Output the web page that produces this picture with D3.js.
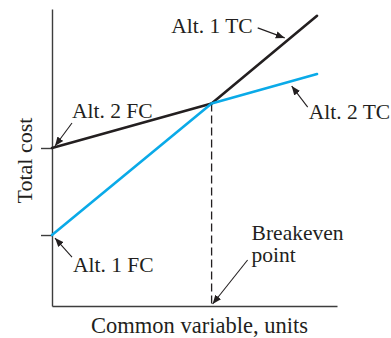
<!DOCTYPE html>
<html>
<head>
<meta charset="utf-8">
<script src="https://cdn.jsdelivr.net/npm/d3@7"></script>
<style>
  body { margin: 0; background: #fff; }
  text { font-family: "Liberation Serif", "Times New Roman", serif; fill: #231f20; }
</style>
</head>
<body>
<div id="wrapper"></div>
<script>
// Common variable values: start, breakeven, end of the plotted range
const xValues = [0, 5.6, 9.3]
// Total cost of each alternative at those values
const alt1Cost = [23.9, 68.2, 97.7]
const alt2Cost = [53.2, 68.2, 78.1]
const fixedCostTicks = [alt2Cost[0], alt1Cost[0]]
const breakevenIndex = 1

const dimensions = {
  width: 391,
  height: 338,
  margin: { top: 9, right: 54, bottom: 32, left: 52 },
}
dimensions.boundedWidth = dimensions.width - dimensions.margin.left - dimensions.margin.right
dimensions.boundedHeight = dimensions.height - dimensions.margin.top - dimensions.margin.bottom

const wrapper = d3.select("#wrapper")
  .append("svg")
    .attr("width", dimensions.width)
    .attr("height", dimensions.height)

const defs = wrapper.append("defs")
defs.append("marker")
    .attr("id", "arrow")
    .attr("viewBox", "0 0 10 10")
    .attr("refX", 10)
    .attr("refY", 5)
    .attr("markerWidth", 9)
    .attr("markerHeight", 9)
    .attr("markerUnits", "userSpaceOnUse")
    .attr("orient", "auto")
  .append("path")
    .attr("d", "M0,1 L10,5 L0,9 Z")
    .attr("fill", "#231f20")

const bounds = wrapper.append("g")
  .attr("transform", `translate(${dimensions.margin.left},${dimensions.margin.top})`)

const xScale = d3.scaleLinear()
  .domain([0, 10])
  .range([0, dimensions.boundedWidth])

const yScale = d3.scaleLinear()
  .domain([0, 100])
  .range([dimensions.boundedHeight, 0])

// axes: no tick labels, only the two fixed-cost marks on y
const yAxisGenerator = d3.axisLeft(yScale)
  .tickValues(fixedCostTicks)
  .tickFormat("")
  .tickSizeInner(11)
  .tickSizeOuter(0)
const yAxis = bounds.append("g").call(yAxisGenerator)

const xAxisGenerator = d3.axisBottom(xScale)
  .tickValues([])
  .tickSizeOuter(0)
const xAxis = bounds.append("g")
  .attr("transform", `translate(0,${dimensions.boundedHeight})`)
  .call(xAxisGenerator)

bounds.selectAll(".domain, .tick line")
  .attr("stroke", "#3d3d3d")
  .attr("stroke-width", 1.4)

// dashed drop line at breakeven
bounds.append("line")
  .attr("x1", xScale(xValues[breakevenIndex]))
  .attr("x2", xScale(xValues[breakevenIndex]))
  .attr("y1", yScale(alt1Cost[breakevenIndex]))
  .attr("y2", yScale(0))
  .attr("stroke", "#231f20")
  .attr("stroke-width", 1.3)
  .attr("stroke-dasharray", "8,4")

// each segment: lower cost in blue, higher in black
const segments = []
for (let i = 0; i < xValues.length - 1; i++) {
  const a1 = alt1Cost[i] + alt1Cost[i + 1]
  const a2 = alt2Cost[i] + alt2Cost[i + 1]
  const low = a1 < a2 ? alt1Cost : alt2Cost
  const high = low === alt1Cost ? alt2Cost : alt1Cost
  segments.push({ vals: high, i, color: "#231f20" })
  segments.push({ vals: low, i, color: "#0aaae8" })
}
const lineGenerator = d3.line()
  .x(d => xScale(d[0]))
  .y(d => yScale(d[1]))

bounds.selectAll(".seg")
  .data(segments)
  .join("path")
    .attr("class", "seg")
    .attr("d", s => lineGenerator([[xValues[s.i], s.vals[s.i]], [xValues[s.i + 1], s.vals[s.i + 1]]]))
    .attr("fill", "none")
    .attr("stroke", s => s.color)
    .attr("stroke-width", 2.6)
    .attr("stroke-linecap", "round")

// helpers to find a point on a line
const valueAt = (vals, x) => {
  const i = x <= xValues[1] ? 0 : 1
  const t = (x - xValues[i]) / (xValues[i + 1] - xValues[i])
  return vals[i] + t * (vals[i + 1] - vals[i])
}

// annotations: anchor in data units, tip/tail/text offsets in px
const annotations = [
  { lines: ["Alt. 1 TC"], x: 8.2, y: valueAt(alt1Cost, 8.2), tip: [-1, -4], tail: [-28, -14], text: [-33, -9], anchor: "end" },
  { lines: ["Alt. 2 TC"], x: 8.41, y: valueAt(alt2Cost, 8.41), tip: [0, 5], tail: [16, 26], text: [17, 38], anchor: "start" },
  { lines: ["Alt. 2 FC"], x: 0, y: alt2Cost[0], tip: [3, -2], tail: [20, -25], text: [20, -30], anchor: "start" },
  { lines: ["Alt. 1 FC"], x: 0, y: alt1Cost[0], tip: [3, 3], tail: [20, 22], text: [21, 37], anchor: "start" },
  { lines: ["Breakeven", "point"], x: xValues[breakevenIndex], y: 0, tip: [1, -2], tail: [36, -46], text: [40, -66], anchor: "start" },
]

annotations.forEach(a => {
  const px = xScale(a.x), py = yScale(a.y)
  bounds.append("line")
    .attr("x1", px + a.tail[0]).attr("y1", py + a.tail[1])
    .attr("x2", px + a.tip[0]).attr("y2", py + a.tip[1])
    .attr("stroke", "#231f20")
    .attr("stroke-width", 1.1)
    .attr("marker-end", "url(#arrow)")
  const t = bounds.append("text")
    .attr("x", px + a.text[0])
    .attr("y", py + a.text[1])
    .attr("text-anchor", a.anchor)
    .style("font-size", "21.5px")
  a.lines.forEach((l, k) => {
    t.append("tspan")
      .attr("x", px + a.text[0])
      .attr("dy", k === 0 ? 0 : 22)
      .text(l)
  })
})

// axis titles
wrapper.append("text")
  .attr("transform", `translate(32,${dimensions.margin.top + dimensions.boundedHeight / 2 + 3}) rotate(-90)`)
  .attr("text-anchor", "middle")
  .style("font-size", "22px")
  .text("Total cost")

wrapper.append("text")
  .attr("x", dimensions.margin.left + dimensions.boundedWidth / 2 + 5)
  .attr("y", 333)
  .attr("text-anchor", "middle")
  .style("font-size", "22.5px")
  .text("Common variable, units")
</script>
</body>
</html>
